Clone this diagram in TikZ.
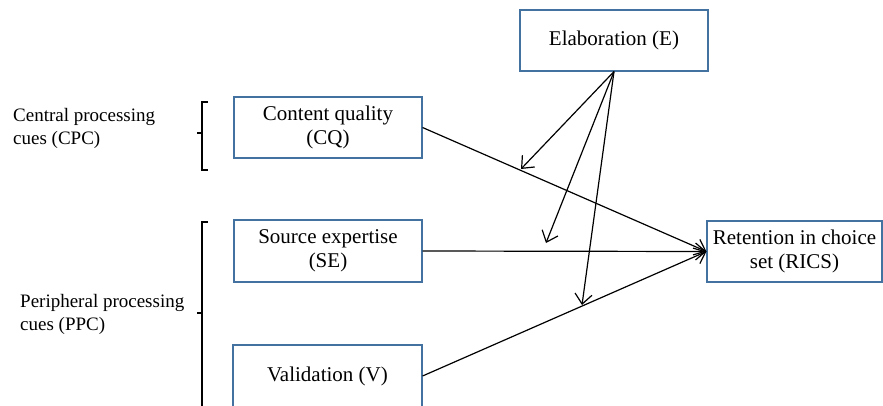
\documentclass[tikz,border=0pt]{standalone}
\usepackage{fontspec}
\setmainfont{Liberation Serif}
\usetikzlibrary{arrows.meta}
\definecolor{boxblue}{RGB}{68,114,160}
\begin{document}
\begin{tikzpicture}[x=1pt,y=-1pt,
  box/.style={draw=boxblue, line width=1.1pt, minimum width=188pt, minimum height=61pt, inner sep=0pt, align=center, font=\fontsize{21}{24.5}\selectfont},
  lbl/.style={anchor=west, align=left, inner sep=0pt, font=\fontsize{19}{23}\selectfont},
  arr/.style={-{Straight Barb[length=10pt,width=17pt,line width=1.2pt]}, line width=1.2pt},
  brk/.style={line width=1.2pt}]
\useasboundingbox (0,0) rectangle (883,405);
\clip (0,0) rectangle (883,405);
\fill[white] (0,0) rectangle (883,405);
\node[box] (E) at (614,40.5) {Elaboration (E)};
\node[box] (CQ) at (328,127.5) {Content quality\\(CQ)};
\node[box, minimum height=62pt] (SE) at (328,251) {Source expertise\\(SE)};
\node[box, minimum width=189pt, minimum height=62pt] (V) at (327.5,376) {Validation (V)};
\node[box, minimum width=175pt, inner sep=0pt] (R) at (794.5,251.5) {Retention in choice\\set (RICS)};
\node[lbl] (cpc) at (13,128.5) {Central processing\\cues (CPC)};
\node[lbl] (ppc) at (20,314.5) {Peripheral processing\\cues (PPC)};
\draw[brk] (208,102) -- (202,102) -- (202,170) -- (208,170);
\draw[brk] (202,133) -- (197,133);
\draw[brk] (208,222) -- (202,222) -- (202,410);
\draw[brk] (202,313) -- (197,313);
\coordinate (m1) at (521,169);
\coordinate (m2) at (546,243);
\coordinate (m3) at (582,305);
\draw[arr] (CQ.east) -- (R.west);
\draw[arr] (SE.east) -- (R.west);
\draw[arr] (V.east) -- (R.west);
\draw[arr] (E.south) -- (m1);
\draw[arr] (E.south) -- (m2);
\draw[arr] (E.south) -- (m3);
\end{tikzpicture}
\end{document}
